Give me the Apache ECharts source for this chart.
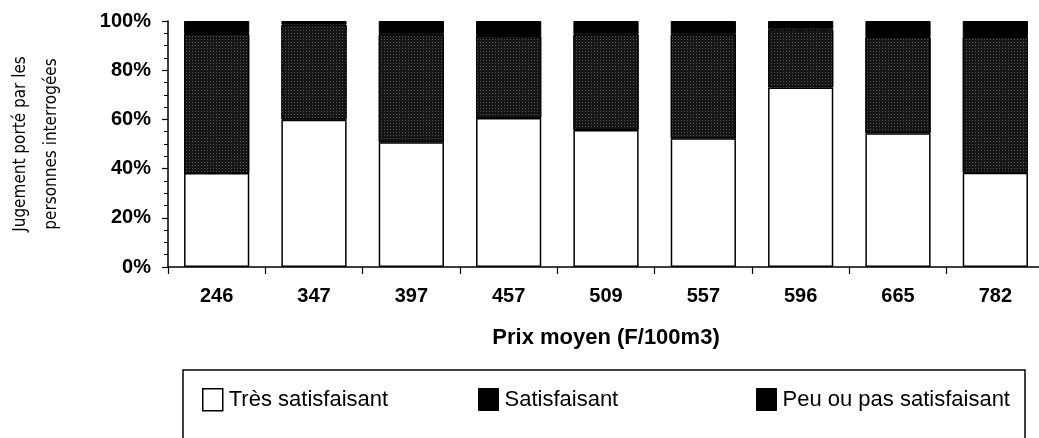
<!DOCTYPE html>
<html>
<head>
<meta charset="utf-8">
<script src="https://cdn.jsdelivr.net/npm/echarts@6/dist/echarts.min.js"></script>
<style>
html,body{margin:0;padding:0;background:#fff;}
#chart{width:1039px;height:438px;}
</style>
</head>
<body>
<div id="chart"></div>
<script>
var categories = ['246', '347', '397', '457', '509', '557', '596', '665', '782'];
var tresSatisfaisant = [38.2, 59.9, 50.7, 60.6, 55.7, 52.3, 73.0, 54.4, 38.3];
var satisfaisant = [56.5, 38.6, 43.9, 33.3, 38.9, 42.3, 23.6, 39.1, 55.2];
var peuSatisfaisant = [5.3, 1.5, 5.4, 6.1, 5.4, 5.4, 3.4, 6.5, 6.5];
var yTicks = [0, 20, 40, 60, 80, 100];

var FONT = '"Liberation Sans", Arial, Helvetica, sans-serif';
var chart = echarts.init(document.getElementById('chart'), null, {renderer: 'canvas'});

function legendFor(name, left, iconColor, iconBorder) {
  return {
    data: [name], left: left, top: 388, padding: 0,
    icon: 'rect', itemWidth: 20, itemHeight: 22, itemGap: 5,
    selectedMode: false,
    itemStyle: {color: iconColor, borderColor: '#000', borderWidth: iconBorder, decal: 'none'},
    textStyle: {fontFamily: FONT, fontSize: 22, color: '#000', padding: [0, 0, 0, 1]}
  };
}

chart.setOption({
  animation: false,
  backgroundColor: '#fff',
  grid: {left: 168, top: 21, width: 876, height: 246, containLabel: false, outerBoundsMode: 'none'},
  legend: [
    legendFor('Très satisfaisant', 202, '#ffffff', 1.5),
    legendFor('Satisfaisant', 478, '#000000', 1),
    legendFor('Peu ou pas satisfaisant', 756, '#000000', 1)
  ],
  graphic: [
    {type: 'polyline', shape: {points: [[183, 470], [183, 370], [1025, 370], [1025, 470]]},
     style: {stroke: '#000', lineWidth: 1.5, fill: null}, silent: true}
  ],
  xAxis: {
    type: 'category', data: categories,
    name: 'Prix moyen (F/100m3)', nameLocation: 'middle', nameGap: 60,
    nameTextStyle: {fontFamily: FONT, fontSize: 22, fontWeight: 'bold', color: '#000'},
    axisLine: {lineStyle: {color: '#000', width: 1.5}},
    axisTick: {show: true, length: 7, lineStyle: {color: '#000', width: 1.2}},
    axisLabel: {fontFamily: FONT, fontSize: 20, fontWeight: 'bold', color: '#000', margin: 19},
    splitLine: {show: false}
  },
  yAxis: {
    type: 'value', min: 0, max: 100, interval: 20,
    name: 'Jugement porté par les\npersonnes interrogées', nameLocation: 'middle', nameRotate: 90, nameGap: 101,
    nameTextStyle: {fontFamily: '"Liberation Sans Narrow", "DejaVu Sans Condensed", ' + FONT, fontSize: 17, color: '#000', lineHeight: 31},
    axisLine: {show: true, lineStyle: {color: '#000', width: 1.5}},
    axisTick: {show: true, length: 6, lineStyle: {color: '#000', width: 1.2}},
    minorTick: {show: true, splitNumber: 4, length: 4, lineStyle: {color: '#000', width: 1}},
    axisLabel: {fontFamily: FONT, fontSize: 20, fontWeight: 'bold', color: '#000', margin: 17,
      formatter: function (v) { return yTicks.indexOf(v) >= 0 ? v + '%' : ''; }},
    splitLine: {show: false}
  },
  series: [
    {name: 'Très satisfaisant', type: 'bar', stack: 'total', data: tresSatisfaisant,
     barCategoryGap: '33%',
     itemStyle: {color: '#ffffff', borderColor: '#000', borderWidth: 1.5}},
    {name: 'Satisfaisant', type: 'bar', stack: 'total', data: satisfaisant,
     itemStyle: {color: '#151515', borderColor: '#000', borderWidth: 1,
       decal: {symbol: 'rect', symbolSize: 1, color: 'rgba(255,255,255,0.28)',
               dashArrayX: [1, 2], dashArrayY: [1, 2], rotation: 0}}},
    {name: 'Peu ou pas satisfaisant', type: 'bar', stack: 'total', data: peuSatisfaisant,
     itemStyle: {color: '#000000', borderColor: '#000', borderWidth: 1}}
  ]
});
</script>
</body>
</html>
